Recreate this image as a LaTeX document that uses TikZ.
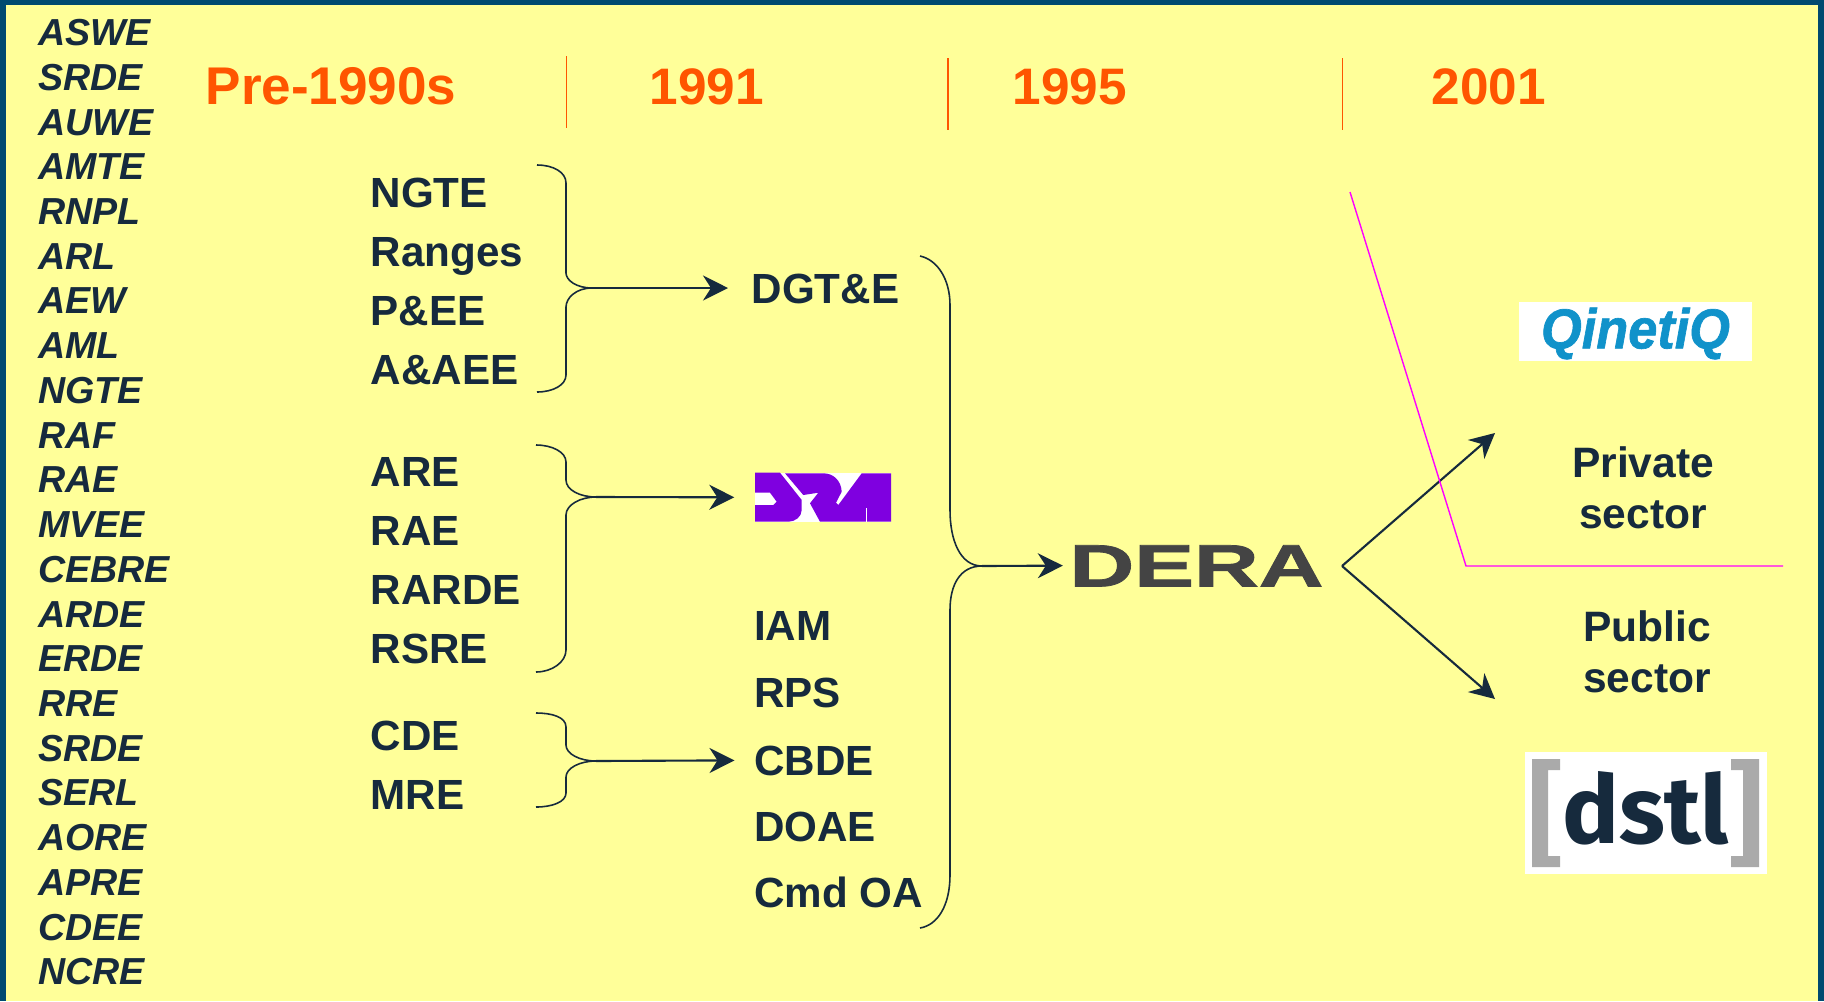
\documentclass[tikz,border=0pt]{standalone}
\usepackage{fontspec}
\setmainfont{Liberation Sans}
\newfontfamily\dstlfont{Fira Sans}
\newfontfamily\logofont[BoldFeatures={FakeBold=1.2},BoldItalicFeatures={FakeBold=1.2}]{Liberation Sans}
\usetikzlibrary{arrows.meta}
\definecolor{inkblue}{HTML}{162A3D}
\definecolor{frameblue}{HTML}{004A70}
\definecolor{paleyellow}{HTML}{FFFF99}
\definecolor{yearorange}{HTML}{FF5500}
\definecolor{splitpink}{HTML}{FF00FF}
\definecolor{drapurple}{HTML}{7F00E0}
\definecolor{qqblue}{HTML}{1092CA}
\definecolor{deragrey}{HTML}{444444}
\definecolor{bracketgrey}{HTML}{AAAAAA}
\begin{document}
\begin{tikzpicture}[y=-1cm, >={Stealth[length=.25cm,width=.25cm,inset=.08cm]},
  old/.style={inner sep=0pt, anchor=west, text=inkblue, text height=7.7pt, text depth=0pt, font=\fontsize{10.7}{12}\selectfont\bfseries\itshape},
  unit/.style={inner sep=0pt, anchor=west, text=inkblue, text height=8.6pt, text depth=0pt, font=\fontsize{12}{14}\selectfont\bfseries},
  sector/.style={inner sep=0pt, text=inkblue, align=center, font=\fontsize{12.1}{14.6}\selectfont\bfseries},
  year/.style={inner sep=0pt, anchor=west, text=yearorange, text height=10.5pt, text depth=0pt, font=\fontsize{14.6}{16}\selectfont\bfseries},
  tick/.style={yearorange, line width=.35pt},
  curly/.style={inkblue, line width=.45pt},
  link/.style={inkblue, line width=.6pt, ->},
]
\useasboundingbox (0,0) rectangle (18.24,10.01);
\fill[frameblue] (0,0) rectangle (18.24,10.01);
\fill[paleyellow] (.06,.05) rectangle (18.18,10.01);

% oldest establishments
\foreach \name [count=\i from 0] in {ASWE,SRDE,AUWE,AMTE,RNPL,ARL,AEW,AML,NGTE,RAF,RAE,MVEE,CEBRE,ARDE,ERDE,RRE,SRDE,SERL,AORE,APRE,CDEE,NCRE}
  \node[old] (old\i) at (.375, {.32+.4473*\i}) {\name};

% years
\node[year, font=\fontsize{15.1}{16}\selectfont\bfseries] (pre) at (2.05, .86) {Pre-1990s};
\node[year] (y91) at (6.49, .86) {1991};
\node[year] (y95) at (10.12, .86) {1995};
\node[year] (y01) at (14.31, .86) {2001};
\draw[tick] (5.665,.56)--(5.665,1.28);
\draw[tick] (9.48,.58)--(9.48,1.30);
\draw[tick] (13.425,.58)--(13.425,1.30);

% second column
\node[unit] (ngte) at (3.70,1.92) {NGTE};
\node[unit] (ranges) at (3.70,2.51) {Ranges};
\node[unit] (pee) at (3.70,3.10) {P\&EE};
\node[unit] (aaee) at (3.70,3.69) {A\&AEE};
\node[unit] (are) at (3.70,4.71) {ARE};
\node[unit] (rae) at (3.70,5.30) {RAE};
\node[unit] (rarde) at (3.70,5.895) {RARDE};
\node[unit] (rsre) at (3.70,6.48) {RSRE};
\node[unit] (cde) at (3.70,7.35) {CDE};
\node[unit] (mre) at (3.70,7.94) {MRE};

% third column
\node[unit, inner xsep=.23cm] (dgte) at (7.28,2.88) {DGT\&E};
\node[unit] (iam) at (7.535,6.25) {IAM};
\node[unit] (rps) at (7.535,6.92) {RPS};
\node[unit, inner xsep=.19cm] (cbde) at (7.345,7.60) {CBDE};
\node[unit] (doae) at (7.535,8.26) {DOAE};
\node[unit] (cmdoa) at (7.535,8.92) {Cmd OA};

% DRA logo
\node[minimum width=1.76cm, minimum height=.49cm, inner sep=0pt] (dra) at (8.23,4.975) {};
\fill[white] (7.55,4.727) rectangle (8.91,5.217);
\fill[drapurple] (7.55,4.727)--(7.80,4.727)--(8.017,5.00)--(8.017,5.10) .. controls (8.017,5.17) and (7.95,5.217) .. (7.883,5.217)--(7.55,5.217)--(7.55,5.05)--(7.733,5.05)--(7.767,5.017)--(7.70,4.927)--(7.55,4.927)--cycle;
\fill[drapurple] (7.85,4.733)--(8.033,4.95)--(8.183,4.927)--(8.10,5.033)--(8.20,5.217)--(8.91,5.217)--(8.91,4.733)--(8.617,4.733)--(8.383,5.05)--(8.36,5.027)--(8.417,4.917) .. controls (8.41,4.80) and (8.33,4.733) .. (8.233,4.733)--cycle;
\draw[white, line width=.15pt] (8.66,5.083)--(8.66,5.217);

% DERA logo
\node[inner sep=0pt, inner xsep=.06cm, text=deragrey, text height=12.2pt, text depth=0pt, font=\fontsize{17}{18}\selectfont\logofont\bfseries] (dera) at (11.965,5.65) {\scalebox{1.5}[1]{DERA}};

% braces
\coordinate (fork1) at (5.92,2.88);
\coordinate (fork2) at (5.96,4.97);
\coordinate (fork3) at (5.96,7.61);
\coordinate (fork4) at (9.82,5.66);
\draw[curly] (5.37,1.65) .. controls (5.53,1.65) and (5.66,1.72) .. (5.66,1.83)--(5.66,2.73) .. controls (5.66,2.80) and (5.76,2.88) .. (fork1);
\draw[curly] (fork1) .. controls (5.76,2.88) and (5.66,2.98) .. (5.66,3.07)--(5.66,3.75) .. controls (5.66,3.85) and (5.53,3.92) .. (5.37,3.92);
\draw[curly] (5.36,4.45) .. controls (5.52,4.45) and (5.66,4.52) .. (5.66,4.62)--(5.66,4.80) .. controls (5.66,4.90) and (5.80,4.97) .. (fork2);
\draw[curly] (fork2) .. controls (5.80,4.97) and (5.66,5.05) .. (5.66,5.15)--(5.66,6.50) .. controls (5.66,6.62) and (5.52,6.72) .. (5.36,6.72);
\draw[curly] (5.36,7.13) .. controls (5.52,7.13) and (5.66,7.17) .. (5.66,7.27)--(5.66,7.45) .. controls (5.66,7.54) and (5.80,7.61) .. (fork3);
\draw[curly] (fork3) .. controls (5.80,7.61) and (5.66,7.68) .. (5.66,7.77)--(5.66,7.93) .. controls (5.66,8.02) and (5.52,8.07) .. (5.36,8.07);
\draw[curly] (9.20,2.56) .. controls (9.38,2.60) and (9.50,2.80) .. (9.50,3.05)--(9.50,5.10) .. controls (9.50,5.40) and (9.60,5.66) .. (fork4);
\draw[curly] (fork4) .. controls (9.60,5.66) and (9.50,5.85) .. (9.50,6.10)--(9.50,8.75) .. controls (9.50,9.05) and (9.38,9.25) .. (9.20,9.28);

\draw[link] (fork1)--(dgte);
\draw[link] (fork2)--(dra);
\draw[link] (fork3)--(cbde);
\draw[link] (fork4)--(dera);

% split
\coordinate (split) at (13.42,5.66);
\coordinate (toprivate) at (14.95,4.33);
\coordinate (topublic) at (14.95,6.99);
\draw[link] (split)--(toprivate);
\draw[link] (split)--(topublic);
\draw[splitpink, line width=.4pt] (13.50,1.92)--(14.66,5.66)--(17.83,5.66);

\node[sector] (private) at (16.43,4.875) {Private\\sector};
\node[sector] (public) at (16.47,6.52) {Public\\sector};

% QinetiQ logo
\node[fill=white, minimum width=2.33cm, minimum height=.59cm, inner sep=0pt] (qinetiq) at (16.355,3.315) {};
\node[inner sep=0pt, text=qqblue, font=\fontsize{16}{18}\selectfont\logofont\bfseries\itshape] (qqname) at (16.355,3.335) {\scalebox{.93}[1]{QinetiQ}};

% dstl logo
\node[fill=white, minimum width=2.42cm, minimum height=1.22cm, inner sep=0pt] (dstl) at (16.46,8.13) {};
\node[inner sep=0pt, text=inkblue, font=\fontsize{27}{30}\selectfont\dstlfont\bfseries] (dstlname) at (16.455,8.08) {dstl};
\fill[bracketgrey] (15.60,7.59)--(15.32,7.59)--(15.32,8.67)--(15.60,8.67)--(15.60,8.56)--(15.48,8.56)--(15.48,7.70)--(15.60,7.70)--cycle;
\fill[bracketgrey] (17.31,7.59)--(17.59,7.59)--(17.59,8.67)--(17.31,8.67)--(17.31,8.56)--(17.43,8.56)--(17.43,7.70)--(17.31,7.70)--cycle;
\end{tikzpicture}
\end{document}
